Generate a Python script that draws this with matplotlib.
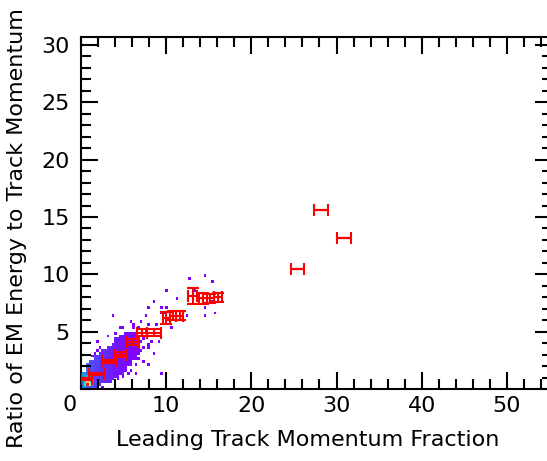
import numpy as np
import matplotlib
matplotlib.use("Agg")
import matplotlib.pyplot as plt
from matplotlib.colors import Normalize
from matplotlib.ticker import MultipleLocator

# ---------------- data ----------------
# dense core of the 2D histogram: column start x, y range, count level
core_x0 = [0.0, 0.5, 1.0, 1.5, 2.0, 2.5, 3.0, 3.5, 4.0, 4.5, 5.0, 5.5, 6.0, 6.5]
core_x1 = [0.5, 1.0, 1.5, 2.0, 2.5, 3.0, 3.5, 4.0, 4.5, 5.0, 5.5, 6.0, 6.5, 7.0]
core_ylo = [0.0, 0.0, 0.0, 0.1, 0.2, 0.4, 0.6, 0.8, 1.0, 1.3, 1.6, 2.0, 2.5, 3.0]
core_yhi = [1.6, 2.2, 2.6, 2.9, 3.2, 3.5, 3.8, 4.1, 4.4, 4.7, 4.9, 5.0, 5.0, 4.8]
core_cnt = [60, 40, 30, 24, 20, 16, 13, 11, 9, 7, 5, 4, 2, 1]

# hot cells near origin
hot_x = [0.4, 0.7, 1.0, 0.4, 0.7, 1.0, 0.7, 1.3, 0.4, 1.0, 1.3, 0.1]
hot_y = [0.4, 0.4, 0.4, 0.7, 0.7, 0.7, 1.0, 0.7, 1.0, 1.0, 0.4, 0.4]
hot_n = [110, 290, 160, 90, 220, 120, 80, 60, 70, 65, 50, 40]

# sparse single entries
out_x = [12.7, 14.4, 15.4, 10.0, 11.3, 13.3, 14.4, 15.8, 12.5, 8.0, 8.4, 3.7,
         10.7, 9.4, 7.8, 8.0, 8.2, 9.2, 7.5, 7.8, 4.5, 5.7, 6.8, 1.9, 9.8, 9.4,
         7.3, 6.5, 2.9, 5.3, 9.5, 9.9, 14.4, 15.3, 7.1, 7.6, 6.2, 8.9, 5.0, 3.1,
         2.3, 1.5, 6.9, 8.5, 10.3, 4.2, 7.4, 7.0, 6.6, 7.9, 5.9, 6.3, 4.8, 3.4,
         2.6, 1.2, 7.2, 8.7, 6.0, 5.6, 3.9, 2.0]
out_y = [9.7, 9.9, 9.3, 8.5, 7.9, 8.5, 6.3, 6.7, 6.3, 7.1, 7.5, 6.3,
         5.3, 1.4, 2.1, 3.6, 4.0, 4.1, 6.3, 5.7, 5.4, 5.9, 5.4, 4.0, 6.7, 6.5,
         2.4, 1.4, 0.8, 1.9, 7.2, 7.0, 7.1, 7.6, 5.8, 5.1, 5.6, 5.5, 5.3, 4.5,
         3.7, 3.0, 3.3, 3.1, 6.0, 0.9, 4.4, 4.1, 2.6, 3.9, 1.7, 2.2, 1.1, 0.5,
         0.2, 2.9, 3.5, 4.6, 5.3, 1.4, 4.8, 3.3]

# profile (red points)
prof_x = [0.65, 1.8, 3.3, 4.65, 6.05, 7.2, 8.6, 10.0, 10.8, 11.6, 13.1, 14.3, 15.2, 16.1, 25.4, 28.2, 30.9]
prof_xerr = [0.65, 0.9, 0.8, 0.75, 0.75, 0.6, 0.8, 0.4, 0.4, 0.4, 0.5, 0.45, 0.45, 0.45, 0.8, 0.8, 0.8]
prof_y = [0.9, 1.3, 2.4, 3.0, 4.1, 4.9, 4.9, 6.2, 6.4, 6.4, 8.1, 7.9, 7.9, 8.0, 10.5, 15.6, 13.2]
prof_yerr = [0.1, 0.1, 0.15, 0.2, 0.25, 0.3, 0.3, 0.5, 0.4, 0.4, 0.7, 0.5, 0.4, 0.4, 0.0, 0.0, 0.0]

xticks = [10, 20, 30, 40, 50]
yticks = [5, 10, 15, 20, 25, 30]

# ---------------- figure ----------------
W, H = 547, 461
fig = plt.figure(figsize=(W / 100, H / 100), dpi=100)
left, right_px, top_px, bot_px = 81, 552, 37, 389
ax = fig.add_axes([left / W, (H - bot_px) / H, (right_px - left) / W, (bot_px - top_px) / H])

xmax, ymax = 55.3, 30.7
bx, by = 0.3, 0.25
xedges = np.arange(0, xmax + bx, bx)
yedges = np.arange(0, ymax + by, by)
counts = np.zeros((len(yedges) - 1, len(xedges) - 1))

for x0, x1, ylo, yhi, c in zip(core_x0, core_x1, core_ylo, core_yhi, core_cnt):
    ix = (xedges[:-1] + bx / 2 >= x0) & (xedges[:-1] + bx / 2 < x1)
    iy = (yedges[:-1] + by / 2 >= ylo) & (yedges[:-1] + by / 2 < yhi)
    counts[np.ix_(iy, ix)] = np.maximum(counts[np.ix_(iy, ix)], c)
for x, y, n in zip(hot_x, hot_y, hot_n):
    counts[int(y / by), int(x / bx)] = n
for x, y in zip(out_x, out_y):
    i, j = int(y / by), int(x / bx)
    counts[i, j] = max(counts[i, j], 1)

cm = np.ma.masked_where(counts <= 0, counts)
ax.pcolormesh(xedges, yedges, cm, cmap="rainbow", norm=Normalize(vmin=0, vmax=300), zorder=1)

ax.errorbar(prof_x, prof_y, xerr=prof_xerr, yerr=prof_yerr, fmt="none",
            ecolor="#ff0000", elinewidth=1.5, capsize=4.0, capthick=1.5, zorder=3)

ax.set_xlim(0, xmax)
ax.set_ylim(0, ymax)
ax.set_xticks(xticks)
ax.set_yticks(yticks)
ax.xaxis.set_minor_locator(MultipleLocator(2))
ax.yaxis.set_minor_locator(MultipleLocator(1))
ax.tick_params(which="both", direction="in", top=True, right=True, width=1.5, color="black")
ax.tick_params(which="major", length=12, labelsize=16)
ax.tick_params(axis="x", which="major", pad=5)
ax.tick_params(axis="y", which="major", pad=8)
ax.tick_params(which="minor", length=7)
for s in ax.spines.values():
    s.set_linewidth(1.5)

fig.text(70 / W, 1 - 405 / H, "0", fontsize=16, ha="center", va="center")
fig.text(308 / W, 1 - 440 / H, "Leading Track Momentum Fraction", fontsize=16, ha="center", va="center")
fig.text(17 / W, 1 - 228 / H, "Ratio of EM Energy to Track Momentum", fontsize=16,
         ha="center", va="center", rotation=90)

fig.savefig("out.png", dpi=100)
